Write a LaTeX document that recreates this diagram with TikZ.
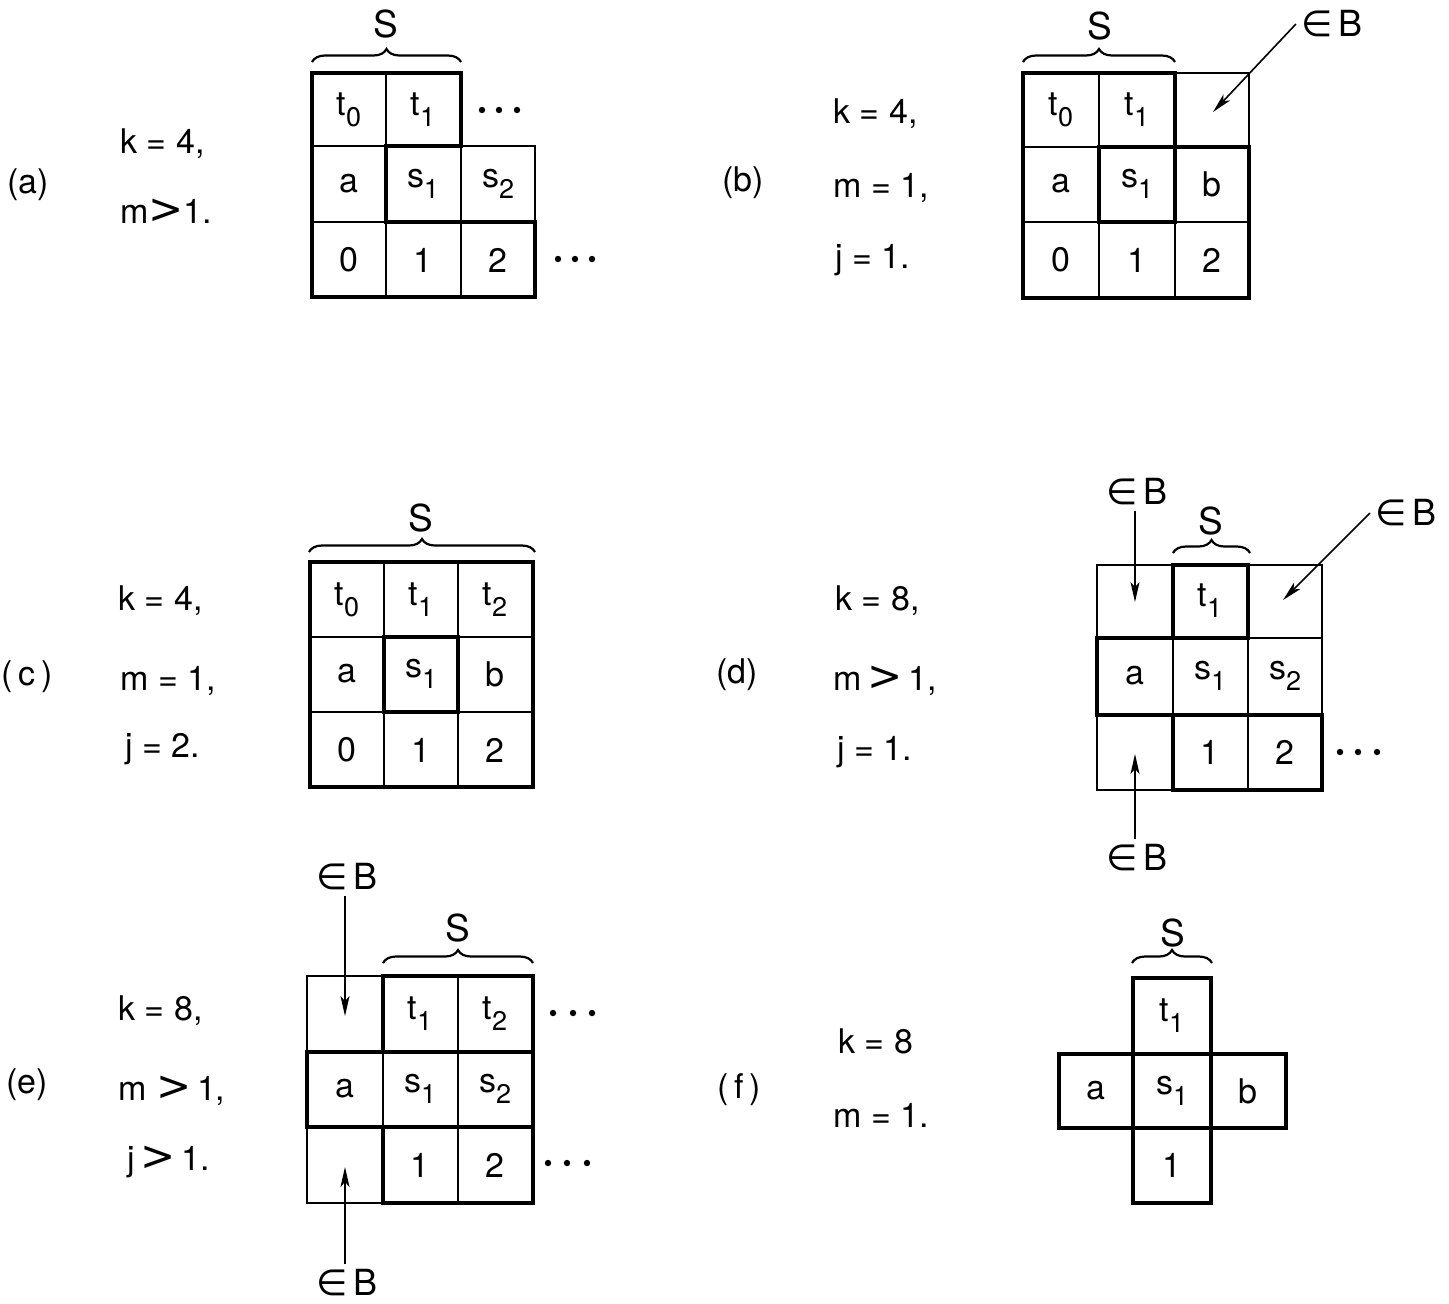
\documentclass[tikz,border=0pt]{standalone}
\usepackage{fontspec}
\setmainfont{TeX Gyre Heros}
\newfontfamily\symf{DejaVu Sans}
\usetikzlibrary{arrows.meta,decorations.pathreplacing}
\newcommand\lsub[1]{\raisebox{-0.32em}{\fontsize{13.5}{16}\selectfont #1}}
\newcommand\elB{{\symf ∈}\,B}
\newcommand\gtsym{{\symf\fontsize{21}{22}\selectfont >}}
\begin{document}
\begin{tikzpicture}[x=0.5pt,y=-0.5pt,
  thinline/.style={line width=1.1pt,line cap=rect},
  thickline/.style={line width=2.4pt,line join=miter,line cap=rect},
  cell/.style={inner sep=0pt,font=\fontsize{17}{20}\selectfont},
  lbl/.style={anchor=base west,inner sep=0pt,font=\fontsize{17}{20}\selectfont},
  tag/.style={anchor=center,inner sep=0pt,font=\fontsize{17}{20}\selectfont},
  slabel/.style={inner sep=0pt,font=\fontsize{18.5}{20}\selectfont},
  eblabel/.style={inner sep=2.5pt,font=\fontsize{18}{20}\selectfont},
  sbrace/.style={decorate,decoration={brace,amplitude=6.5pt},line width=1.1pt},
  pointer/.style={line width=0.8pt,-{Stealth[length=10pt,width=4.5pt,inset=2.5pt]}},
  dotfill/.style={fill=black}
]
\useasboundingbox (0,0) rectangle (1449,1303);

% ================= (a) =================
\node[tag] (taga) at (28,185) {(a)};
\node[lbl] (ka) at (120,153) {k = 4,};
\node[lbl] (ma) at (120,223) {m\gtsym 1.};
\draw[thickline] (312,73) -- (461,73) -- (461,146) -- (386,146) -- (386,222) -- (535,222) -- (535,297) -- (312,297) -- cycle;
\draw[thinline] (386,73) -- (386,146) (312,146) -- (386,146) (461,146) -- (535,146) -- (535,222)
  (312,222) -- (386,222) (386,222) -- (386,297) (461,146) -- (461,297);
\node[cell] (a-t0) at (349,110) {t\lsub{0}};
\node[cell] (a-t1) at (423,110) {t\lsub{1}};
\node[cell] (a-a) at (349,184) {a};
\node[cell] (a-s1) at (423,184) {s\lsub{1}};
\node[cell] (a-s2) at (498,184) {s\lsub{2}};
\node[cell] (a-0) at (349,260) {0};
\node[cell] (a-1) at (423,260) {1};
\node[cell] (a-2) at (498,260) {2};
\draw[sbrace] (312,62) -- (461,62);
\node[slabel] (a-S) at (386,24) {S};
\foreach \x in {482,499,517} \fill[dotfill] (\x,110) circle (1.6pt);
\foreach \x in {558,575,592} \fill[dotfill] (\x,259) circle (1.6pt);

% ================= (b) =================
\node[tag] (tagb) at (743,183) {(b)};
\node[lbl] (kb) at (833,123) {k = 4,};
\node[lbl] (mb) at (833,197) {m = 1,};
\node[lbl] (jb) at (835,268) {j = 1.};
\draw[thickline] (1023,73) -- (1175,73) -- (1175,147) -- (1249,147) -- (1249,298) -- (1023,298) -- cycle;
\draw[thickline] (1099,147) rectangle (1175,222);
\draw[thinline] (1175,73) -- (1249,73) -- (1249,147) (1099,73) -- (1099,147) (1023,147) -- (1099,147)
  (1023,222) -- (1099,222) (1175,222) -- (1249,222) (1099,222) -- (1099,298) (1175,222) -- (1175,298);
\node[cell] (b-t0) at (1061,110) {t\lsub{0}};
\node[cell] (b-t1) at (1137,110) {t\lsub{1}};
\node[cell] (b-a) at (1061,184) {a};
\node[cell] (b-s1) at (1137,184) {s\lsub{1}};
\node[cell] (b-b) at (1212,184) {b};
\node[cell] (b-0) at (1061,260) {0};
\node[cell] (b-1) at (1137,260) {1};
\node[cell] (b-2) at (1212,260) {2};
\draw[sbrace] (1023,62) -- (1175,62);
\node[slabel] (b-S) at (1100,26) {S};
\node[eblabel] (b-eB) at (1332,24) {\elB};
\coordinate (b-tip) at (1213,112);
\draw[pointer] (b-eB.west) -- (b-tip);

% ================= (c) =================
\node[tag] (tagc) at (27,677) {(\,c\,)};
\node[lbl] (kc) at (118,610) {k = 4,};
\node[lbl] (mc) at (120,690) {m = 1,};
\node[lbl] (jc) at (125,757) {j = 2.};
\draw[thickline] (310,562) rectangle (533,787);
\draw[thickline] (384,637) rectangle (458,712);
\draw[thinline] (384,562) -- (384,637) (458,562) -- (458,637) (310,637) -- (384,637) (458,637) -- (533,637)
  (310,712) -- (384,712) (458,712) -- (533,712) (384,712) -- (384,787) (458,712) -- (458,787);
\node[cell] (c-t0) at (347,600) {t\lsub{0}};
\node[cell] (c-t1) at (421,600) {t\lsub{1}};
\node[cell] (c-t2) at (495,600) {t\lsub{2}};
\node[cell] (c-a) at (347,674) {a};
\node[cell] (c-s1) at (421,674) {s\lsub{1}};
\node[cell] (c-b) at (495,674) {b};
\node[cell] (c-0) at (347,750) {0};
\node[cell] (c-1) at (421,750) {1};
\node[cell] (c-2) at (495,750) {2};
\draw[sbrace] (309,552) -- (535,552);
\node[slabel] (c-S) at (421,518) {S};

% ================= (d) =================
\node[tag] (tagd) at (737,675) {(d)};
\node[lbl] (kd) at (835,610) {k = 8,};
\node[lbl] (md) at (833,690) {m\,\gtsym\,1,};
\node[lbl] (jd) at (837,760) {j = 1.};
\draw[thickline] (1173,565) rectangle (1248,638);
\draw[thickline] (1097,638) -- (1248,638) (1097,638) -- (1097,715) (1097,715) -- (1322,715);
\draw[thickline] (1173,715) rectangle (1322,790);
\draw[thinline] (1173,565) -- (1097,565) -- (1097,638) (1248,565) -- (1322,565) -- (1322,638) -- (1248,638)
  (1173,638) -- (1173,715) (1248,638) -- (1248,715) (1322,638) -- (1322,715)
  (1097,715) -- (1097,790) -- (1173,790) (1248,715) -- (1248,790);
\node[cell] (d-t1) at (1210,601) {t\lsub{1}};
\node[cell] (d-a) at (1135,676) {a};
\node[cell] (d-s1) at (1210,676) {s\lsub{1}};
\node[cell] (d-s2) at (1285,676) {s\lsub{2}};
\node[cell] (d-1) at (1210,752) {1};
\node[cell] (d-2) at (1285,752) {2};
\draw[sbrace] (1173,553) -- (1250,553);
\node[slabel] (d-S) at (1211,521) {S};
\node[eblabel] (d-eB1) at (1137,492) {\elB};
\node[eblabel] (d-eB2) at (1406,513) {\elB};
\node[eblabel] (d-eB3) at (1137,858) {\elB};
\coordinate (d-tip1) at (1135,602);
\coordinate (d-tip2) at (1283,600);
\coordinate (d-tip3) at (1135,754);
\draw[pointer] (d-eB1.south -| d-tip1) -- (d-tip1);
\draw[pointer] (d-eB2.west) -- (d-tip2);
\draw[pointer] (d-eB3.north -| d-tip3) -- (d-tip3);
\foreach \x in {1340,1358,1377} \fill[dotfill] (\x,752) circle (1.6pt);

% ================= (e) =================
\node[tag] (tage) at (27,1085) {(e)};
\node[lbl] (ke) at (118,1020) {k = 8,};
\node[lbl] (me) at (118,1100) {m \gtsym\,1,};
\node[lbl] (je) at (127,1170) {j\,\gtsym\,1.};
\draw[thickline] (383,1052) -- (383,976) -- (533,976) -- (533,1203) -- (383,1203) -- (383,1127);
\draw[thickline] (307,1052) -- (533,1052) (307,1127) -- (533,1127) (307,1052) -- (307,1127);
\draw[thinline] (383,976) -- (307,976) -- (307,1052) (307,1127) -- (307,1203) -- (383,1203)
  (383,1052) -- (383,1127) (458,976) -- (458,1203);
\node[cell] (e-t1) at (420,1014) {t\lsub{1}};
\node[cell] (e-t2) at (495,1014) {t\lsub{2}};
\node[cell] (e-a) at (345,1089) {a};
\node[cell] (e-s1) at (420,1089) {s\lsub{1}};
\node[cell] (e-s2) at (495,1089) {s\lsub{2}};
\node[cell] (e-1) at (420,1165) {1};
\node[cell] (e-2) at (495,1165) {2};
\draw[sbrace] (383,963) -- (533,963);
\node[slabel] (e-S) at (458,928) {S};
\node[eblabel] (e-eB1) at (347,877) {\elB};
\node[eblabel] (e-eB2) at (347,1283) {\elB};
\coordinate (e-tip1) at (345,1016);
\coordinate (e-tip2) at (345,1167);
\draw[pointer] (e-eB1.south -| e-tip1) -- (e-tip1);
\draw[pointer] (e-eB2.north -| e-tip2) -- (e-tip2);
\foreach \x in {553,573,592} \fill[dotfill] (\x,1013) circle (1.6pt);
\foreach \x in {548,567,587} \fill[dotfill] (\x,1163) circle (1.6pt);

% ================= (f) =================
\node[tag] (tagf) at (739,1090) {(\,f\,)};
\node[lbl] (kf) at (838,1053) {k = 8};
\node[lbl] (mf) at (833,1127) {m = 1.};
\draw[thickline] (1133,978) rectangle (1211,1203);
\draw[thickline] (1059,1054) rectangle (1286,1128);
\node[cell] (f-t1) at (1172,1016) {t\lsub{1}};
\node[cell] (f-a) at (1096,1091) {a};
\node[cell] (f-s1) at (1172,1091) {s\lsub{1}};
\node[cell] (f-b) at (1248,1091) {b};
\node[cell] (f-1) at (1172,1165) {1};
\draw[sbrace] (1132,963) -- (1212,963);
\node[slabel] (f-S) at (1173,933) {S};
\end{tikzpicture}
\end{document}
